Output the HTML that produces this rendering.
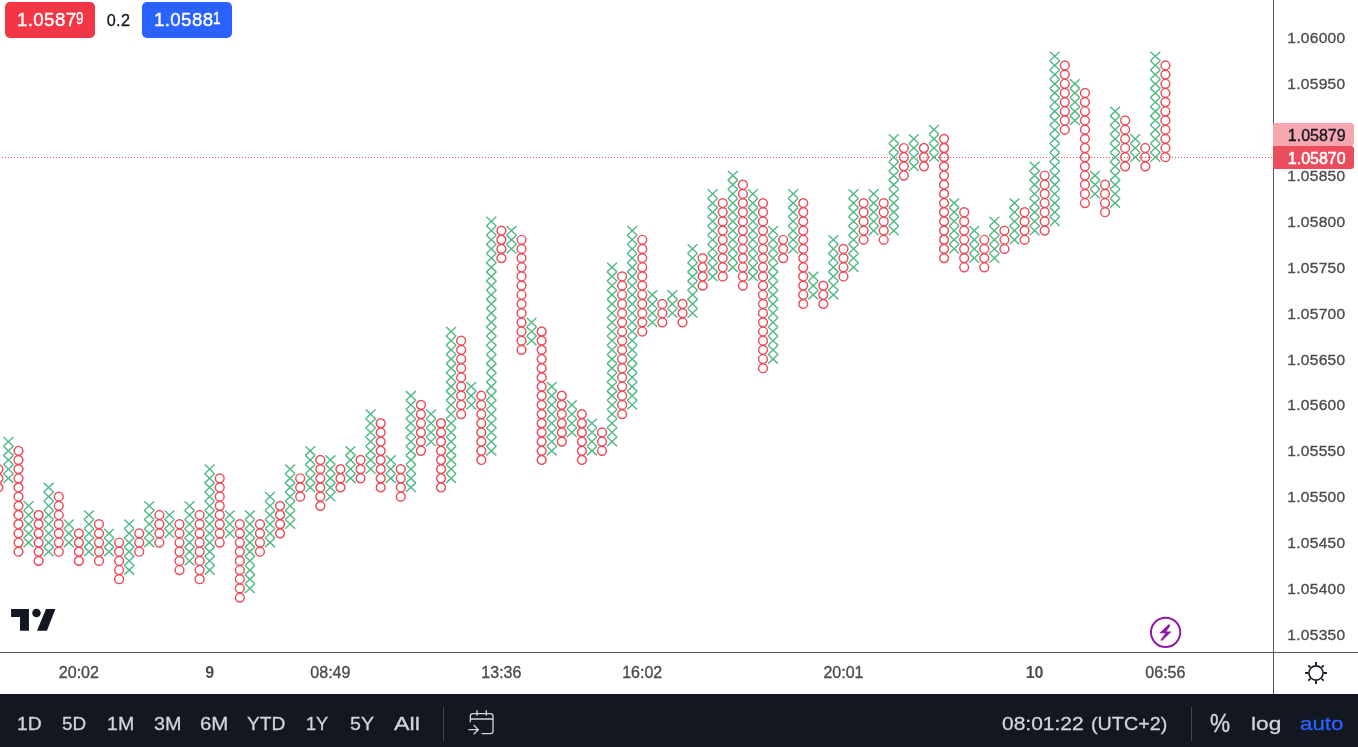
<!DOCTYPE html>
<html lang="en">
<head>
<meta charset="utf-8">
<title>Chart</title>
<style>
html,body{margin:0;padding:0;}
body{width:1358px;height:747px;overflow:hidden;background:#fff;position:relative;font-family:"Liberation Sans",sans-serif;}
#chart{position:absolute;left:0;top:0;width:1358px;height:694px;background:#fff;overflow:hidden;}
#chart svg{position:absolute;left:0;top:0;}
.vline{position:absolute;left:1273px;top:0;width:1px;height:694px;background:#555;}
.hline{position:absolute;left:0;top:652px;width:1358px;height:1px;background:#555;}
.pl{position:absolute;left:1287.3px;width:60px;height:20px;line-height:20px;font-size:15.5px;letter-spacing:0.3px;color:#4c4c4c;white-space:nowrap;-webkit-text-stroke:0.35px #4c4c4c;margin-top:0.6px;}
.tl{position:absolute;top:663px;width:80px;height:20px;line-height:20px;text-align:center;font-size:16px;color:#4c4c4c;white-space:nowrap;-webkit-text-stroke:0.35px #4c4c4c;}
.tl.b{font-weight:bold;-webkit-text-stroke:0;}
.btn{position:absolute;top:2px;height:36px;width:90px;border-radius:5px;color:#fff;font-size:18.7px;letter-spacing:0.38px;line-height:36px;white-space:nowrap;-webkit-text-stroke:0.35px #fff;}
.btn span.m{position:absolute;left:12px;top:-0.5px;}
.btn span.s{position:absolute;left:71.3px;top:-1.5px;font-size:16px;transform:scaleX(0.85);transform-origin:0 50%;}
#sell{left:5px;background:#f23645;}
#buy{left:142px;background:#2962ff;}
#spread{position:absolute;left:95px;top:2px;width:47px;height:36px;line-height:36px;text-align:center;font-size:16.2px;letter-spacing:0.3px;color:#131722;-webkit-text-stroke:0.3px #131722;}
.tag{position:absolute;left:1273px;width:81px;height:23px;border-radius:0 3px 3px 0;font-size:16px;line-height:23px;white-space:nowrap;}
.tag span{position:absolute;left:14.8px;top:0.5px;}
#tag1{top:123px;background:#f5a6ae;color:#131722;-webkit-text-stroke:0.35px #131722;}
#tag2{top:146px;background:#eb4d5c;color:#fff;-webkit-text-stroke:0.55px #fff;}
#bar{position:absolute;left:0;top:694px;width:1358px;height:53px;background:#131722;}
#bar .t{position:absolute;top:11.5px;height:36px;line-height:36px;font-size:19px;color:#d1d4dc;white-space:nowrap;transform-origin:0 50%;-webkit-text-stroke:0.3px;}
#bar .sep{position:absolute;top:13px;width:1px;height:34px;background:#434651;}
</style>
</head>
<body>
<div id="chart">
<svg width="1358" height="694" viewBox="0 0 1358 694">
<line x1="2" y1="157.5" x2="1273" y2="157.5" stroke="#eb4d5c" stroke-width="1" stroke-dasharray="1 2" shape-rendering="crispEdges"/>
<path d="M3.49 437.01l9.9 9.18M3.49 446.19l9.9 9.18M3.49 455.36l9.9 9.18M3.49 464.54l9.9 9.18M3.49 473.71l9.9 9.18M23.61 501.24l9.9 9.18M23.61 510.41l9.9 9.18M23.61 519.59l9.9 9.18M23.61 528.76l9.9 9.18M23.61 537.94l9.9 9.18M43.73 482.89l9.9 9.18M43.73 492.06l9.9 9.18M43.73 501.24l9.9 9.18M43.73 510.41l9.9 9.18M43.73 519.59l9.9 9.18M43.73 528.76l9.9 9.18M43.73 537.94l9.9 9.18M43.73 547.11l9.9 9.18M63.85 519.59l9.9 9.18M63.85 528.76l9.9 9.18M63.85 537.94l9.9 9.18M83.97 510.41l9.9 9.18M83.97 519.59l9.9 9.18M83.97 528.76l9.9 9.18M83.97 537.94l9.9 9.18M83.97 547.11l9.9 9.18M104.09 528.76l9.9 9.18M104.09 537.94l9.9 9.18M104.09 547.11l9.9 9.18M124.21 519.59l9.9 9.18M124.21 528.76l9.9 9.18M124.21 537.94l9.9 9.18M124.21 547.11l9.9 9.18M124.21 556.29l9.9 9.18M124.21 565.46l9.9 9.18M144.34 501.24l9.9 9.18M144.34 510.41l9.9 9.18M144.34 519.59l9.9 9.18M144.34 528.76l9.9 9.18M144.34 537.94l9.9 9.18M164.46 510.41l9.9 9.18M164.46 519.59l9.9 9.18M164.46 528.76l9.9 9.18M184.58 501.24l9.9 9.18M184.58 510.41l9.9 9.18M184.58 519.59l9.9 9.18M184.58 528.76l9.9 9.18M184.58 537.94l9.9 9.18M184.58 547.11l9.9 9.18M184.58 556.29l9.9 9.18M204.7 464.54l9.9 9.18M204.7 473.71l9.9 9.18M204.7 482.89l9.9 9.18M204.7 492.06l9.9 9.18M204.7 501.24l9.9 9.18M204.7 510.41l9.9 9.18M204.7 519.59l9.9 9.18M204.7 528.76l9.9 9.18M204.7 537.94l9.9 9.18M204.7 547.11l9.9 9.18M204.7 556.29l9.9 9.18M204.7 565.46l9.9 9.18M224.82 510.41l9.9 9.18M224.82 519.59l9.9 9.18M224.82 528.76l9.9 9.18M244.94 510.41l9.9 9.18M244.94 519.59l9.9 9.18M244.94 528.76l9.9 9.18M244.94 537.94l9.9 9.18M244.94 547.11l9.9 9.18M244.94 556.29l9.9 9.18M244.94 565.46l9.9 9.18M244.94 574.64l9.9 9.18M244.94 583.81l9.9 9.18M265.06 492.06l9.9 9.18M265.06 501.24l9.9 9.18M265.06 510.41l9.9 9.18M265.06 519.59l9.9 9.18M265.06 528.76l9.9 9.18M265.06 537.94l9.9 9.18M285.18 464.54l9.9 9.18M285.18 473.71l9.9 9.18M285.18 482.89l9.9 9.18M285.18 492.06l9.9 9.18M285.18 501.24l9.9 9.18M285.18 510.41l9.9 9.18M285.18 519.59l9.9 9.18M305.3 446.19l9.9 9.18M305.3 455.36l9.9 9.18M305.3 464.54l9.9 9.18M305.3 473.71l9.9 9.18M305.3 482.89l9.9 9.18M325.42 455.36l9.9 9.18M325.42 464.54l9.9 9.18M325.42 473.71l9.9 9.18M325.42 482.89l9.9 9.18M325.42 492.06l9.9 9.18M345.55 446.19l9.9 9.18M345.55 455.36l9.9 9.18M345.55 464.54l9.9 9.18M345.55 473.71l9.9 9.18M365.67 409.49l9.9 9.18M365.67 418.66l9.9 9.18M365.67 427.84l9.9 9.18M365.67 437.01l9.9 9.18M365.67 446.19l9.9 9.18M365.67 455.36l9.9 9.18M365.67 464.54l9.9 9.18M385.79 455.36l9.9 9.18M385.79 464.54l9.9 9.18M385.79 473.71l9.9 9.18M405.91 391.14l9.9 9.18M405.91 400.31l9.9 9.18M405.91 409.49l9.9 9.18M405.91 418.66l9.9 9.18M405.91 427.84l9.9 9.18M405.91 437.01l9.9 9.18M405.91 446.19l9.9 9.18M405.91 455.36l9.9 9.18M405.91 464.54l9.9 9.18M405.91 473.71l9.9 9.18M405.91 482.89l9.9 9.18M426.03 409.49l9.9 9.18M426.03 418.66l9.9 9.18M426.03 427.84l9.9 9.18M426.03 437.01l9.9 9.18M446.15 326.91l9.9 9.18M446.15 336.09l9.9 9.18M446.15 345.26l9.9 9.18M446.15 354.44l9.9 9.18M446.15 363.61l9.9 9.18M446.15 372.79l9.9 9.18M446.15 381.96l9.9 9.18M446.15 391.14l9.9 9.18M446.15 400.31l9.9 9.18M446.15 409.49l9.9 9.18M446.15 418.66l9.9 9.18M446.15 427.84l9.9 9.18M446.15 437.01l9.9 9.18M446.15 446.19l9.9 9.18M446.15 455.36l9.9 9.18M446.15 464.54l9.9 9.18M446.15 473.71l9.9 9.18M466.27 381.96l9.9 9.18M466.27 391.14l9.9 9.18M466.27 400.31l9.9 9.18M486.39 216.81l9.9 9.18M486.39 225.99l9.9 9.18M486.39 235.16l9.9 9.18M486.39 244.34l9.9 9.18M486.39 253.51l9.9 9.18M486.39 262.69l9.9 9.18M486.39 271.86l9.9 9.18M486.39 281.04l9.9 9.18M486.39 290.21l9.9 9.18M486.39 299.39l9.9 9.18M486.39 308.56l9.9 9.18M486.39 317.74l9.9 9.18M486.39 326.91l9.9 9.18M486.39 336.09l9.9 9.18M486.39 345.26l9.9 9.18M486.39 354.44l9.9 9.18M486.39 363.61l9.9 9.18M486.39 372.79l9.9 9.18M486.39 381.96l9.9 9.18M486.39 391.14l9.9 9.18M486.39 400.31l9.9 9.18M486.39 409.49l9.9 9.18M486.39 418.66l9.9 9.18M486.39 427.84l9.9 9.18M486.39 437.01l9.9 9.18M486.39 446.19l9.9 9.18M506.51 225.99l9.9 9.18M506.51 235.16l9.9 9.18M506.51 244.34l9.9 9.18M526.63 317.74l9.9 9.18M526.63 326.91l9.9 9.18M526.63 336.09l9.9 9.18M546.76 381.96l9.9 9.18M546.76 391.14l9.9 9.18M546.76 400.31l9.9 9.18M546.76 409.49l9.9 9.18M546.76 418.66l9.9 9.18M546.76 427.84l9.9 9.18M546.76 437.01l9.9 9.18M546.76 446.19l9.9 9.18M566.88 400.31l9.9 9.18M566.88 409.49l9.9 9.18M566.88 418.66l9.9 9.18M566.88 427.84l9.9 9.18M587 418.66l9.9 9.18M587 427.84l9.9 9.18M587 437.01l9.9 9.18M587 446.19l9.9 9.18M607.12 262.69l9.9 9.18M607.12 271.86l9.9 9.18M607.12 281.04l9.9 9.18M607.12 290.21l9.9 9.18M607.12 299.39l9.9 9.18M607.12 308.56l9.9 9.18M607.12 317.74l9.9 9.18M607.12 326.91l9.9 9.18M607.12 336.09l9.9 9.18M607.12 345.26l9.9 9.18M607.12 354.44l9.9 9.18M607.12 363.61l9.9 9.18M607.12 372.79l9.9 9.18M607.12 381.96l9.9 9.18M607.12 391.14l9.9 9.18M607.12 400.31l9.9 9.18M607.12 409.49l9.9 9.18M607.12 418.66l9.9 9.18M607.12 427.84l9.9 9.18M607.12 437.01l9.9 9.18M627.24 225.99l9.9 9.18M627.24 235.16l9.9 9.18M627.24 244.34l9.9 9.18M627.24 253.51l9.9 9.18M627.24 262.69l9.9 9.18M627.24 271.86l9.9 9.18M627.24 281.04l9.9 9.18M627.24 290.21l9.9 9.18M627.24 299.39l9.9 9.18M627.24 308.56l9.9 9.18M627.24 317.74l9.9 9.18M627.24 326.91l9.9 9.18M627.24 336.09l9.9 9.18M627.24 345.26l9.9 9.18M627.24 354.44l9.9 9.18M627.24 363.61l9.9 9.18M627.24 372.79l9.9 9.18M627.24 381.96l9.9 9.18M627.24 391.14l9.9 9.18M627.24 400.31l9.9 9.18M647.36 290.21l9.9 9.18M647.36 299.39l9.9 9.18M647.36 308.56l9.9 9.18M647.36 317.74l9.9 9.18M667.48 290.21l9.9 9.18M667.48 299.39l9.9 9.18M667.48 308.56l9.9 9.18M687.6 244.34l9.9 9.18M687.6 253.51l9.9 9.18M687.6 262.69l9.9 9.18M687.6 271.86l9.9 9.18M687.6 281.04l9.9 9.18M687.6 290.21l9.9 9.18M687.6 299.39l9.9 9.18M687.6 308.56l9.9 9.18M707.72 189.29l9.9 9.18M707.72 198.46l9.9 9.18M707.72 207.64l9.9 9.18M707.72 216.81l9.9 9.18M707.72 225.99l9.9 9.18M707.72 235.16l9.9 9.18M707.72 244.34l9.9 9.18M707.72 253.51l9.9 9.18M707.72 262.69l9.9 9.18M707.72 271.86l9.9 9.18M727.84 170.94l9.9 9.18M727.84 180.11l9.9 9.18M727.84 189.29l9.9 9.18M727.84 198.46l9.9 9.18M727.84 207.64l9.9 9.18M727.84 216.81l9.9 9.18M727.84 225.99l9.9 9.18M727.84 235.16l9.9 9.18M727.84 244.34l9.9 9.18M727.84 253.51l9.9 9.18M727.84 262.69l9.9 9.18M747.97 189.29l9.9 9.18M747.97 198.46l9.9 9.18M747.97 207.64l9.9 9.18M747.97 216.81l9.9 9.18M747.97 225.99l9.9 9.18M747.97 235.16l9.9 9.18M747.97 244.34l9.9 9.18M747.97 253.51l9.9 9.18M747.97 262.69l9.9 9.18M747.97 271.86l9.9 9.18M768.09 225.99l9.9 9.18M768.09 235.16l9.9 9.18M768.09 244.34l9.9 9.18M768.09 253.51l9.9 9.18M768.09 262.69l9.9 9.18M768.09 271.86l9.9 9.18M768.09 281.04l9.9 9.18M768.09 290.21l9.9 9.18M768.09 299.39l9.9 9.18M768.09 308.56l9.9 9.18M768.09 317.74l9.9 9.18M768.09 326.91l9.9 9.18M768.09 336.09l9.9 9.18M768.09 345.26l9.9 9.18M768.09 354.44l9.9 9.18M788.21 189.29l9.9 9.18M788.21 198.46l9.9 9.18M788.21 207.64l9.9 9.18M788.21 216.81l9.9 9.18M788.21 225.99l9.9 9.18M788.21 235.16l9.9 9.18M788.21 244.34l9.9 9.18M808.33 271.86l9.9 9.18M808.33 281.04l9.9 9.18M808.33 290.21l9.9 9.18M828.45 235.16l9.9 9.18M828.45 244.34l9.9 9.18M828.45 253.51l9.9 9.18M828.45 262.69l9.9 9.18M828.45 271.86l9.9 9.18M828.45 281.04l9.9 9.18M828.45 290.21l9.9 9.18M848.57 189.29l9.9 9.18M848.57 198.46l9.9 9.18M848.57 207.64l9.9 9.18M848.57 216.81l9.9 9.18M848.57 225.99l9.9 9.18M848.57 235.16l9.9 9.18M848.57 244.34l9.9 9.18M848.57 253.51l9.9 9.18M848.57 262.69l9.9 9.18M868.69 189.29l9.9 9.18M868.69 198.46l9.9 9.18M868.69 207.64l9.9 9.18M868.69 216.81l9.9 9.18M868.69 225.99l9.9 9.18M888.81 134.24l9.9 9.18M888.81 143.41l9.9 9.18M888.81 152.59l9.9 9.18M888.81 161.76l9.9 9.18M888.81 170.94l9.9 9.18M888.81 180.11l9.9 9.18M888.81 189.29l9.9 9.18M888.81 198.46l9.9 9.18M888.81 207.64l9.9 9.18M888.81 216.81l9.9 9.18M888.81 225.99l9.9 9.18M908.93 134.24l9.9 9.18M908.93 143.41l9.9 9.18M908.93 152.59l9.9 9.18M908.93 161.76l9.9 9.18M929.05 125.06l9.9 9.18M929.05 134.24l9.9 9.18M929.05 143.41l9.9 9.18M929.05 152.59l9.9 9.18M949.18 198.46l9.9 9.18M949.18 207.64l9.9 9.18M949.18 216.81l9.9 9.18M949.18 225.99l9.9 9.18M949.18 235.16l9.9 9.18M949.18 244.34l9.9 9.18M969.3 225.99l9.9 9.18M969.3 235.16l9.9 9.18M969.3 244.34l9.9 9.18M969.3 253.51l9.9 9.18M989.42 216.81l9.9 9.18M989.42 225.99l9.9 9.18M989.42 235.16l9.9 9.18M989.42 244.34l9.9 9.18M989.42 253.51l9.9 9.18M1009.54 198.46l9.9 9.18M1009.54 207.64l9.9 9.18M1009.54 216.81l9.9 9.18M1009.54 225.99l9.9 9.18M1009.54 235.16l9.9 9.18M1029.66 161.76l9.9 9.18M1029.66 170.94l9.9 9.18M1029.66 180.11l9.9 9.18M1029.66 189.29l9.9 9.18M1029.66 198.46l9.9 9.18M1029.66 207.64l9.9 9.18M1029.66 216.81l9.9 9.18M1029.66 225.99l9.9 9.18M1049.78 51.66l9.9 9.18M1049.78 60.84l9.9 9.18M1049.78 70.01l9.9 9.18M1049.78 79.19l9.9 9.18M1049.78 88.36l9.9 9.18M1049.78 97.54l9.9 9.18M1049.78 106.71l9.9 9.18M1049.78 115.89l9.9 9.18M1049.78 125.06l9.9 9.18M1049.78 134.24l9.9 9.18M1049.78 143.41l9.9 9.18M1049.78 152.59l9.9 9.18M1049.78 161.76l9.9 9.18M1049.78 170.94l9.9 9.18M1049.78 180.11l9.9 9.18M1049.78 189.29l9.9 9.18M1049.78 198.46l9.9 9.18M1049.78 207.64l9.9 9.18M1049.78 216.81l9.9 9.18M1069.9 79.19l9.9 9.18M1069.9 88.36l9.9 9.18M1069.9 97.54l9.9 9.18M1069.9 106.71l9.9 9.18M1069.9 115.89l9.9 9.18M1090.02 170.94l9.9 9.18M1090.02 180.11l9.9 9.18M1090.02 189.29l9.9 9.18M1110.14 106.71l9.9 9.18M1110.14 115.89l9.9 9.18M1110.14 125.06l9.9 9.18M1110.14 134.24l9.9 9.18M1110.14 143.41l9.9 9.18M1110.14 152.59l9.9 9.18M1110.14 161.76l9.9 9.18M1110.14 170.94l9.9 9.18M1110.14 180.11l9.9 9.18M1110.14 189.29l9.9 9.18M1110.14 198.46l9.9 9.18M1130.26 134.24l9.9 9.18M1130.26 143.41l9.9 9.18M1130.26 152.59l9.9 9.18M1150.39 51.66l9.9 9.18M1150.39 60.84l9.9 9.18M1150.39 70.01l9.9 9.18M1150.39 79.19l9.9 9.18M1150.39 88.36l9.9 9.18M1150.39 97.54l9.9 9.18M1150.39 106.71l9.9 9.18M1150.39 115.89l9.9 9.18M1150.39 125.06l9.9 9.18M1150.39 134.24l9.9 9.18M1150.39 143.41l9.9 9.18M1150.39 152.59l9.9 9.18" fill="none" stroke="#53b987" stroke-width="1.45" stroke-linecap="butt" stroke-linejoin="miter"/>
<path d="M3.49 446.19l9.9 -9.18M3.49 455.36l9.9 -9.18M3.49 464.54l9.9 -9.18M3.49 473.71l9.9 -9.18M3.49 482.89l9.9 -9.18M23.61 510.41l9.9 -9.18M23.61 519.59l9.9 -9.18M23.61 528.76l9.9 -9.18M23.61 537.94l9.9 -9.18M23.61 547.11l9.9 -9.18M43.73 492.06l9.9 -9.18M43.73 501.24l9.9 -9.18M43.73 510.41l9.9 -9.18M43.73 519.59l9.9 -9.18M43.73 528.76l9.9 -9.18M43.73 537.94l9.9 -9.18M43.73 547.11l9.9 -9.18M43.73 556.29l9.9 -9.18M63.85 528.76l9.9 -9.18M63.85 537.94l9.9 -9.18M63.85 547.11l9.9 -9.18M83.97 519.59l9.9 -9.18M83.97 528.76l9.9 -9.18M83.97 537.94l9.9 -9.18M83.97 547.11l9.9 -9.18M83.97 556.29l9.9 -9.18M104.09 537.94l9.9 -9.18M104.09 547.11l9.9 -9.18M104.09 556.29l9.9 -9.18M124.21 528.76l9.9 -9.18M124.21 537.94l9.9 -9.18M124.21 547.11l9.9 -9.18M124.21 556.29l9.9 -9.18M124.21 565.46l9.9 -9.18M124.21 574.64l9.9 -9.18M144.34 510.41l9.9 -9.18M144.34 519.59l9.9 -9.18M144.34 528.76l9.9 -9.18M144.34 537.94l9.9 -9.18M144.34 547.11l9.9 -9.18M164.46 519.59l9.9 -9.18M164.46 528.76l9.9 -9.18M164.46 537.94l9.9 -9.18M184.58 510.41l9.9 -9.18M184.58 519.59l9.9 -9.18M184.58 528.76l9.9 -9.18M184.58 537.94l9.9 -9.18M184.58 547.11l9.9 -9.18M184.58 556.29l9.9 -9.18M184.58 565.46l9.9 -9.18M204.7 473.71l9.9 -9.18M204.7 482.89l9.9 -9.18M204.7 492.06l9.9 -9.18M204.7 501.24l9.9 -9.18M204.7 510.41l9.9 -9.18M204.7 519.59l9.9 -9.18M204.7 528.76l9.9 -9.18M204.7 537.94l9.9 -9.18M204.7 547.11l9.9 -9.18M204.7 556.29l9.9 -9.18M204.7 565.46l9.9 -9.18M204.7 574.64l9.9 -9.18M224.82 519.59l9.9 -9.18M224.82 528.76l9.9 -9.18M224.82 537.94l9.9 -9.18M244.94 519.59l9.9 -9.18M244.94 528.76l9.9 -9.18M244.94 537.94l9.9 -9.18M244.94 547.11l9.9 -9.18M244.94 556.29l9.9 -9.18M244.94 565.46l9.9 -9.18M244.94 574.64l9.9 -9.18M244.94 583.81l9.9 -9.18M244.94 592.99l9.9 -9.18M265.06 501.24l9.9 -9.18M265.06 510.41l9.9 -9.18M265.06 519.59l9.9 -9.18M265.06 528.76l9.9 -9.18M265.06 537.94l9.9 -9.18M265.06 547.11l9.9 -9.18M285.18 473.71l9.9 -9.18M285.18 482.89l9.9 -9.18M285.18 492.06l9.9 -9.18M285.18 501.24l9.9 -9.18M285.18 510.41l9.9 -9.18M285.18 519.59l9.9 -9.18M285.18 528.76l9.9 -9.18M305.3 455.36l9.9 -9.18M305.3 464.54l9.9 -9.18M305.3 473.71l9.9 -9.18M305.3 482.89l9.9 -9.18M305.3 492.06l9.9 -9.18M325.42 464.54l9.9 -9.18M325.42 473.71l9.9 -9.18M325.42 482.89l9.9 -9.18M325.42 492.06l9.9 -9.18M325.42 501.24l9.9 -9.18M345.55 455.36l9.9 -9.18M345.55 464.54l9.9 -9.18M345.55 473.71l9.9 -9.18M345.55 482.89l9.9 -9.18M365.67 418.66l9.9 -9.18M365.67 427.84l9.9 -9.18M365.67 437.01l9.9 -9.18M365.67 446.19l9.9 -9.18M365.67 455.36l9.9 -9.18M365.67 464.54l9.9 -9.18M365.67 473.71l9.9 -9.18M385.79 464.54l9.9 -9.18M385.79 473.71l9.9 -9.18M385.79 482.89l9.9 -9.18M405.91 400.31l9.9 -9.18M405.91 409.49l9.9 -9.18M405.91 418.66l9.9 -9.18M405.91 427.84l9.9 -9.18M405.91 437.01l9.9 -9.18M405.91 446.19l9.9 -9.18M405.91 455.36l9.9 -9.18M405.91 464.54l9.9 -9.18M405.91 473.71l9.9 -9.18M405.91 482.89l9.9 -9.18M405.91 492.06l9.9 -9.18M426.03 418.66l9.9 -9.18M426.03 427.84l9.9 -9.18M426.03 437.01l9.9 -9.18M426.03 446.19l9.9 -9.18M446.15 336.09l9.9 -9.18M446.15 345.26l9.9 -9.18M446.15 354.44l9.9 -9.18M446.15 363.61l9.9 -9.18M446.15 372.79l9.9 -9.18M446.15 381.96l9.9 -9.18M446.15 391.14l9.9 -9.18M446.15 400.31l9.9 -9.18M446.15 409.49l9.9 -9.18M446.15 418.66l9.9 -9.18M446.15 427.84l9.9 -9.18M446.15 437.01l9.9 -9.18M446.15 446.19l9.9 -9.18M446.15 455.36l9.9 -9.18M446.15 464.54l9.9 -9.18M446.15 473.71l9.9 -9.18M446.15 482.89l9.9 -9.18M466.27 391.14l9.9 -9.18M466.27 400.31l9.9 -9.18M466.27 409.49l9.9 -9.18M486.39 225.99l9.9 -9.18M486.39 235.16l9.9 -9.18M486.39 244.34l9.9 -9.18M486.39 253.51l9.9 -9.18M486.39 262.69l9.9 -9.18M486.39 271.86l9.9 -9.18M486.39 281.04l9.9 -9.18M486.39 290.21l9.9 -9.18M486.39 299.39l9.9 -9.18M486.39 308.56l9.9 -9.18M486.39 317.74l9.9 -9.18M486.39 326.91l9.9 -9.18M486.39 336.09l9.9 -9.18M486.39 345.26l9.9 -9.18M486.39 354.44l9.9 -9.18M486.39 363.61l9.9 -9.18M486.39 372.79l9.9 -9.18M486.39 381.96l9.9 -9.18M486.39 391.14l9.9 -9.18M486.39 400.31l9.9 -9.18M486.39 409.49l9.9 -9.18M486.39 418.66l9.9 -9.18M486.39 427.84l9.9 -9.18M486.39 437.01l9.9 -9.18M486.39 446.19l9.9 -9.18M486.39 455.36l9.9 -9.18M506.51 235.16l9.9 -9.18M506.51 244.34l9.9 -9.18M506.51 253.51l9.9 -9.18M526.63 326.91l9.9 -9.18M526.63 336.09l9.9 -9.18M526.63 345.26l9.9 -9.18M546.76 391.14l9.9 -9.18M546.76 400.31l9.9 -9.18M546.76 409.49l9.9 -9.18M546.76 418.66l9.9 -9.18M546.76 427.84l9.9 -9.18M546.76 437.01l9.9 -9.18M546.76 446.19l9.9 -9.18M546.76 455.36l9.9 -9.18M566.88 409.49l9.9 -9.18M566.88 418.66l9.9 -9.18M566.88 427.84l9.9 -9.18M566.88 437.01l9.9 -9.18M587 427.84l9.9 -9.18M587 437.01l9.9 -9.18M587 446.19l9.9 -9.18M587 455.36l9.9 -9.18M607.12 271.86l9.9 -9.18M607.12 281.04l9.9 -9.18M607.12 290.21l9.9 -9.18M607.12 299.39l9.9 -9.18M607.12 308.56l9.9 -9.18M607.12 317.74l9.9 -9.18M607.12 326.91l9.9 -9.18M607.12 336.09l9.9 -9.18M607.12 345.26l9.9 -9.18M607.12 354.44l9.9 -9.18M607.12 363.61l9.9 -9.18M607.12 372.79l9.9 -9.18M607.12 381.96l9.9 -9.18M607.12 391.14l9.9 -9.18M607.12 400.31l9.9 -9.18M607.12 409.49l9.9 -9.18M607.12 418.66l9.9 -9.18M607.12 427.84l9.9 -9.18M607.12 437.01l9.9 -9.18M607.12 446.19l9.9 -9.18M627.24 235.16l9.9 -9.18M627.24 244.34l9.9 -9.18M627.24 253.51l9.9 -9.18M627.24 262.69l9.9 -9.18M627.24 271.86l9.9 -9.18M627.24 281.04l9.9 -9.18M627.24 290.21l9.9 -9.18M627.24 299.39l9.9 -9.18M627.24 308.56l9.9 -9.18M627.24 317.74l9.9 -9.18M627.24 326.91l9.9 -9.18M627.24 336.09l9.9 -9.18M627.24 345.26l9.9 -9.18M627.24 354.44l9.9 -9.18M627.24 363.61l9.9 -9.18M627.24 372.79l9.9 -9.18M627.24 381.96l9.9 -9.18M627.24 391.14l9.9 -9.18M627.24 400.31l9.9 -9.18M627.24 409.49l9.9 -9.18M647.36 299.39l9.9 -9.18M647.36 308.56l9.9 -9.18M647.36 317.74l9.9 -9.18M647.36 326.91l9.9 -9.18M667.48 299.39l9.9 -9.18M667.48 308.56l9.9 -9.18M667.48 317.74l9.9 -9.18M687.6 253.51l9.9 -9.18M687.6 262.69l9.9 -9.18M687.6 271.86l9.9 -9.18M687.6 281.04l9.9 -9.18M687.6 290.21l9.9 -9.18M687.6 299.39l9.9 -9.18M687.6 308.56l9.9 -9.18M687.6 317.74l9.9 -9.18M707.72 198.46l9.9 -9.18M707.72 207.64l9.9 -9.18M707.72 216.81l9.9 -9.18M707.72 225.99l9.9 -9.18M707.72 235.16l9.9 -9.18M707.72 244.34l9.9 -9.18M707.72 253.51l9.9 -9.18M707.72 262.69l9.9 -9.18M707.72 271.86l9.9 -9.18M707.72 281.04l9.9 -9.18M727.84 180.11l9.9 -9.18M727.84 189.29l9.9 -9.18M727.84 198.46l9.9 -9.18M727.84 207.64l9.9 -9.18M727.84 216.81l9.9 -9.18M727.84 225.99l9.9 -9.18M727.84 235.16l9.9 -9.18M727.84 244.34l9.9 -9.18M727.84 253.51l9.9 -9.18M727.84 262.69l9.9 -9.18M727.84 271.86l9.9 -9.18M747.97 198.46l9.9 -9.18M747.97 207.64l9.9 -9.18M747.97 216.81l9.9 -9.18M747.97 225.99l9.9 -9.18M747.97 235.16l9.9 -9.18M747.97 244.34l9.9 -9.18M747.97 253.51l9.9 -9.18M747.97 262.69l9.9 -9.18M747.97 271.86l9.9 -9.18M747.97 281.04l9.9 -9.18M768.09 235.16l9.9 -9.18M768.09 244.34l9.9 -9.18M768.09 253.51l9.9 -9.18M768.09 262.69l9.9 -9.18M768.09 271.86l9.9 -9.18M768.09 281.04l9.9 -9.18M768.09 290.21l9.9 -9.18M768.09 299.39l9.9 -9.18M768.09 308.56l9.9 -9.18M768.09 317.74l9.9 -9.18M768.09 326.91l9.9 -9.18M768.09 336.09l9.9 -9.18M768.09 345.26l9.9 -9.18M768.09 354.44l9.9 -9.18M768.09 363.61l9.9 -9.18M788.21 198.46l9.9 -9.18M788.21 207.64l9.9 -9.18M788.21 216.81l9.9 -9.18M788.21 225.99l9.9 -9.18M788.21 235.16l9.9 -9.18M788.21 244.34l9.9 -9.18M788.21 253.51l9.9 -9.18M808.33 281.04l9.9 -9.18M808.33 290.21l9.9 -9.18M808.33 299.39l9.9 -9.18M828.45 244.34l9.9 -9.18M828.45 253.51l9.9 -9.18M828.45 262.69l9.9 -9.18M828.45 271.86l9.9 -9.18M828.45 281.04l9.9 -9.18M828.45 290.21l9.9 -9.18M828.45 299.39l9.9 -9.18M848.57 198.46l9.9 -9.18M848.57 207.64l9.9 -9.18M848.57 216.81l9.9 -9.18M848.57 225.99l9.9 -9.18M848.57 235.16l9.9 -9.18M848.57 244.34l9.9 -9.18M848.57 253.51l9.9 -9.18M848.57 262.69l9.9 -9.18M848.57 271.86l9.9 -9.18M868.69 198.46l9.9 -9.18M868.69 207.64l9.9 -9.18M868.69 216.81l9.9 -9.18M868.69 225.99l9.9 -9.18M868.69 235.16l9.9 -9.18M888.81 143.41l9.9 -9.18M888.81 152.59l9.9 -9.18M888.81 161.76l9.9 -9.18M888.81 170.94l9.9 -9.18M888.81 180.11l9.9 -9.18M888.81 189.29l9.9 -9.18M888.81 198.46l9.9 -9.18M888.81 207.64l9.9 -9.18M888.81 216.81l9.9 -9.18M888.81 225.99l9.9 -9.18M888.81 235.16l9.9 -9.18M908.93 143.41l9.9 -9.18M908.93 152.59l9.9 -9.18M908.93 161.76l9.9 -9.18M908.93 170.94l9.9 -9.18M929.05 134.24l9.9 -9.18M929.05 143.41l9.9 -9.18M929.05 152.59l9.9 -9.18M929.05 161.76l9.9 -9.18M949.18 207.64l9.9 -9.18M949.18 216.81l9.9 -9.18M949.18 225.99l9.9 -9.18M949.18 235.16l9.9 -9.18M949.18 244.34l9.9 -9.18M949.18 253.51l9.9 -9.18M969.3 235.16l9.9 -9.18M969.3 244.34l9.9 -9.18M969.3 253.51l9.9 -9.18M969.3 262.69l9.9 -9.18M989.42 225.99l9.9 -9.18M989.42 235.16l9.9 -9.18M989.42 244.34l9.9 -9.18M989.42 253.51l9.9 -9.18M989.42 262.69l9.9 -9.18M1009.54 207.64l9.9 -9.18M1009.54 216.81l9.9 -9.18M1009.54 225.99l9.9 -9.18M1009.54 235.16l9.9 -9.18M1009.54 244.34l9.9 -9.18M1029.66 170.94l9.9 -9.18M1029.66 180.11l9.9 -9.18M1029.66 189.29l9.9 -9.18M1029.66 198.46l9.9 -9.18M1029.66 207.64l9.9 -9.18M1029.66 216.81l9.9 -9.18M1029.66 225.99l9.9 -9.18M1029.66 235.16l9.9 -9.18M1049.78 60.84l9.9 -9.18M1049.78 70.01l9.9 -9.18M1049.78 79.19l9.9 -9.18M1049.78 88.36l9.9 -9.18M1049.78 97.54l9.9 -9.18M1049.78 106.71l9.9 -9.18M1049.78 115.89l9.9 -9.18M1049.78 125.06l9.9 -9.18M1049.78 134.24l9.9 -9.18M1049.78 143.41l9.9 -9.18M1049.78 152.59l9.9 -9.18M1049.78 161.76l9.9 -9.18M1049.78 170.94l9.9 -9.18M1049.78 180.11l9.9 -9.18M1049.78 189.29l9.9 -9.18M1049.78 198.46l9.9 -9.18M1049.78 207.64l9.9 -9.18M1049.78 216.81l9.9 -9.18M1049.78 225.99l9.9 -9.18M1069.9 88.36l9.9 -9.18M1069.9 97.54l9.9 -9.18M1069.9 106.71l9.9 -9.18M1069.9 115.89l9.9 -9.18M1069.9 125.06l9.9 -9.18M1090.02 180.11l9.9 -9.18M1090.02 189.29l9.9 -9.18M1090.02 198.46l9.9 -9.18M1110.14 115.89l9.9 -9.18M1110.14 125.06l9.9 -9.18M1110.14 134.24l9.9 -9.18M1110.14 143.41l9.9 -9.18M1110.14 152.59l9.9 -9.18M1110.14 161.76l9.9 -9.18M1110.14 170.94l9.9 -9.18M1110.14 180.11l9.9 -9.18M1110.14 189.29l9.9 -9.18M1110.14 198.46l9.9 -9.18M1110.14 207.64l9.9 -9.18M1130.26 143.41l9.9 -9.18M1130.26 152.59l9.9 -9.18M1130.26 161.76l9.9 -9.18M1150.39 60.84l9.9 -9.18M1150.39 70.01l9.9 -9.18M1150.39 79.19l9.9 -9.18M1150.39 88.36l9.9 -9.18M1150.39 97.54l9.9 -9.18M1150.39 106.71l9.9 -9.18M1150.39 115.89l9.9 -9.18M1150.39 125.06l9.9 -9.18M1150.39 134.24l9.9 -9.18M1150.39 143.41l9.9 -9.18M1150.39 152.59l9.9 -9.18M1150.39 161.76l9.9 -9.18" fill="none" stroke="#53b987" stroke-width="1.45"/>
<path d="M-6.02 469.12a4.4 4.4 0 1 0 8.8 0a4.4 4.4 0 1 0 -8.8 0M-6.02 478.3a4.4 4.4 0 1 0 8.8 0a4.4 4.4 0 1 0 -8.8 0M-6.02 487.48a4.4 4.4 0 1 0 8.8 0a4.4 4.4 0 1 0 -8.8 0M14.1 450.78a4.4 4.4 0 1 0 8.8 0a4.4 4.4 0 1 0 -8.8 0M14.1 459.95a4.4 4.4 0 1 0 8.8 0a4.4 4.4 0 1 0 -8.8 0M14.1 469.12a4.4 4.4 0 1 0 8.8 0a4.4 4.4 0 1 0 -8.8 0M14.1 478.3a4.4 4.4 0 1 0 8.8 0a4.4 4.4 0 1 0 -8.8 0M14.1 487.48a4.4 4.4 0 1 0 8.8 0a4.4 4.4 0 1 0 -8.8 0M14.1 496.65a4.4 4.4 0 1 0 8.8 0a4.4 4.4 0 1 0 -8.8 0M14.1 505.82a4.4 4.4 0 1 0 8.8 0a4.4 4.4 0 1 0 -8.8 0M14.1 515a4.4 4.4 0 1 0 8.8 0a4.4 4.4 0 1 0 -8.8 0M14.1 524.18a4.4 4.4 0 1 0 8.8 0a4.4 4.4 0 1 0 -8.8 0M14.1 533.35a4.4 4.4 0 1 0 8.8 0a4.4 4.4 0 1 0 -8.8 0M14.1 542.53a4.4 4.4 0 1 0 8.8 0a4.4 4.4 0 1 0 -8.8 0M14.1 551.7a4.4 4.4 0 1 0 8.8 0a4.4 4.4 0 1 0 -8.8 0M34.22 515a4.4 4.4 0 1 0 8.8 0a4.4 4.4 0 1 0 -8.8 0M34.22 524.18a4.4 4.4 0 1 0 8.8 0a4.4 4.4 0 1 0 -8.8 0M34.22 533.35a4.4 4.4 0 1 0 8.8 0a4.4 4.4 0 1 0 -8.8 0M34.22 542.53a4.4 4.4 0 1 0 8.8 0a4.4 4.4 0 1 0 -8.8 0M34.22 551.7a4.4 4.4 0 1 0 8.8 0a4.4 4.4 0 1 0 -8.8 0M34.22 560.88a4.4 4.4 0 1 0 8.8 0a4.4 4.4 0 1 0 -8.8 0M54.34 496.65a4.4 4.4 0 1 0 8.8 0a4.4 4.4 0 1 0 -8.8 0M54.34 505.82a4.4 4.4 0 1 0 8.8 0a4.4 4.4 0 1 0 -8.8 0M54.34 515a4.4 4.4 0 1 0 8.8 0a4.4 4.4 0 1 0 -8.8 0M54.34 524.18a4.4 4.4 0 1 0 8.8 0a4.4 4.4 0 1 0 -8.8 0M54.34 533.35a4.4 4.4 0 1 0 8.8 0a4.4 4.4 0 1 0 -8.8 0M54.34 542.53a4.4 4.4 0 1 0 8.8 0a4.4 4.4 0 1 0 -8.8 0M54.34 551.7a4.4 4.4 0 1 0 8.8 0a4.4 4.4 0 1 0 -8.8 0M74.46 533.35a4.4 4.4 0 1 0 8.8 0a4.4 4.4 0 1 0 -8.8 0M74.46 542.53a4.4 4.4 0 1 0 8.8 0a4.4 4.4 0 1 0 -8.8 0M74.46 551.7a4.4 4.4 0 1 0 8.8 0a4.4 4.4 0 1 0 -8.8 0M74.46 560.88a4.4 4.4 0 1 0 8.8 0a4.4 4.4 0 1 0 -8.8 0M94.58 524.18a4.4 4.4 0 1 0 8.8 0a4.4 4.4 0 1 0 -8.8 0M94.58 533.35a4.4 4.4 0 1 0 8.8 0a4.4 4.4 0 1 0 -8.8 0M94.58 542.53a4.4 4.4 0 1 0 8.8 0a4.4 4.4 0 1 0 -8.8 0M94.58 551.7a4.4 4.4 0 1 0 8.8 0a4.4 4.4 0 1 0 -8.8 0M94.58 560.88a4.4 4.4 0 1 0 8.8 0a4.4 4.4 0 1 0 -8.8 0M114.7 542.53a4.4 4.4 0 1 0 8.8 0a4.4 4.4 0 1 0 -8.8 0M114.7 551.7a4.4 4.4 0 1 0 8.8 0a4.4 4.4 0 1 0 -8.8 0M114.7 560.88a4.4 4.4 0 1 0 8.8 0a4.4 4.4 0 1 0 -8.8 0M114.7 570.05a4.4 4.4 0 1 0 8.8 0a4.4 4.4 0 1 0 -8.8 0M114.7 579.23a4.4 4.4 0 1 0 8.8 0a4.4 4.4 0 1 0 -8.8 0M134.82 533.35a4.4 4.4 0 1 0 8.8 0a4.4 4.4 0 1 0 -8.8 0M134.82 542.53a4.4 4.4 0 1 0 8.8 0a4.4 4.4 0 1 0 -8.8 0M134.82 551.7a4.4 4.4 0 1 0 8.8 0a4.4 4.4 0 1 0 -8.8 0M154.95 515a4.4 4.4 0 1 0 8.8 0a4.4 4.4 0 1 0 -8.8 0M154.95 524.18a4.4 4.4 0 1 0 8.8 0a4.4 4.4 0 1 0 -8.8 0M154.95 533.35a4.4 4.4 0 1 0 8.8 0a4.4 4.4 0 1 0 -8.8 0M154.95 542.53a4.4 4.4 0 1 0 8.8 0a4.4 4.4 0 1 0 -8.8 0M175.07 524.18a4.4 4.4 0 1 0 8.8 0a4.4 4.4 0 1 0 -8.8 0M175.07 533.35a4.4 4.4 0 1 0 8.8 0a4.4 4.4 0 1 0 -8.8 0M175.07 542.53a4.4 4.4 0 1 0 8.8 0a4.4 4.4 0 1 0 -8.8 0M175.07 551.7a4.4 4.4 0 1 0 8.8 0a4.4 4.4 0 1 0 -8.8 0M175.07 560.88a4.4 4.4 0 1 0 8.8 0a4.4 4.4 0 1 0 -8.8 0M175.07 570.05a4.4 4.4 0 1 0 8.8 0a4.4 4.4 0 1 0 -8.8 0M195.19 515a4.4 4.4 0 1 0 8.8 0a4.4 4.4 0 1 0 -8.8 0M195.19 524.18a4.4 4.4 0 1 0 8.8 0a4.4 4.4 0 1 0 -8.8 0M195.19 533.35a4.4 4.4 0 1 0 8.8 0a4.4 4.4 0 1 0 -8.8 0M195.19 542.53a4.4 4.4 0 1 0 8.8 0a4.4 4.4 0 1 0 -8.8 0M195.19 551.7a4.4 4.4 0 1 0 8.8 0a4.4 4.4 0 1 0 -8.8 0M195.19 560.88a4.4 4.4 0 1 0 8.8 0a4.4 4.4 0 1 0 -8.8 0M195.19 570.05a4.4 4.4 0 1 0 8.8 0a4.4 4.4 0 1 0 -8.8 0M195.19 579.23a4.4 4.4 0 1 0 8.8 0a4.4 4.4 0 1 0 -8.8 0M215.31 478.3a4.4 4.4 0 1 0 8.8 0a4.4 4.4 0 1 0 -8.8 0M215.31 487.48a4.4 4.4 0 1 0 8.8 0a4.4 4.4 0 1 0 -8.8 0M215.31 496.65a4.4 4.4 0 1 0 8.8 0a4.4 4.4 0 1 0 -8.8 0M215.31 505.82a4.4 4.4 0 1 0 8.8 0a4.4 4.4 0 1 0 -8.8 0M215.31 515a4.4 4.4 0 1 0 8.8 0a4.4 4.4 0 1 0 -8.8 0M215.31 524.18a4.4 4.4 0 1 0 8.8 0a4.4 4.4 0 1 0 -8.8 0M215.31 533.35a4.4 4.4 0 1 0 8.8 0a4.4 4.4 0 1 0 -8.8 0M215.31 542.53a4.4 4.4 0 1 0 8.8 0a4.4 4.4 0 1 0 -8.8 0M235.43 524.18a4.4 4.4 0 1 0 8.8 0a4.4 4.4 0 1 0 -8.8 0M235.43 533.35a4.4 4.4 0 1 0 8.8 0a4.4 4.4 0 1 0 -8.8 0M235.43 542.53a4.4 4.4 0 1 0 8.8 0a4.4 4.4 0 1 0 -8.8 0M235.43 551.7a4.4 4.4 0 1 0 8.8 0a4.4 4.4 0 1 0 -8.8 0M235.43 560.88a4.4 4.4 0 1 0 8.8 0a4.4 4.4 0 1 0 -8.8 0M235.43 570.05a4.4 4.4 0 1 0 8.8 0a4.4 4.4 0 1 0 -8.8 0M235.43 579.23a4.4 4.4 0 1 0 8.8 0a4.4 4.4 0 1 0 -8.8 0M235.43 588.4a4.4 4.4 0 1 0 8.8 0a4.4 4.4 0 1 0 -8.8 0M235.43 597.58a4.4 4.4 0 1 0 8.8 0a4.4 4.4 0 1 0 -8.8 0M255.55 524.18a4.4 4.4 0 1 0 8.8 0a4.4 4.4 0 1 0 -8.8 0M255.55 533.35a4.4 4.4 0 1 0 8.8 0a4.4 4.4 0 1 0 -8.8 0M255.55 542.53a4.4 4.4 0 1 0 8.8 0a4.4 4.4 0 1 0 -8.8 0M255.55 551.7a4.4 4.4 0 1 0 8.8 0a4.4 4.4 0 1 0 -8.8 0M275.67 505.82a4.4 4.4 0 1 0 8.8 0a4.4 4.4 0 1 0 -8.8 0M275.67 515a4.4 4.4 0 1 0 8.8 0a4.4 4.4 0 1 0 -8.8 0M275.67 524.18a4.4 4.4 0 1 0 8.8 0a4.4 4.4 0 1 0 -8.8 0M275.67 533.35a4.4 4.4 0 1 0 8.8 0a4.4 4.4 0 1 0 -8.8 0M295.79 478.3a4.4 4.4 0 1 0 8.8 0a4.4 4.4 0 1 0 -8.8 0M295.79 487.48a4.4 4.4 0 1 0 8.8 0a4.4 4.4 0 1 0 -8.8 0M295.79 496.65a4.4 4.4 0 1 0 8.8 0a4.4 4.4 0 1 0 -8.8 0M315.91 459.95a4.4 4.4 0 1 0 8.8 0a4.4 4.4 0 1 0 -8.8 0M315.91 469.12a4.4 4.4 0 1 0 8.8 0a4.4 4.4 0 1 0 -8.8 0M315.91 478.3a4.4 4.4 0 1 0 8.8 0a4.4 4.4 0 1 0 -8.8 0M315.91 487.48a4.4 4.4 0 1 0 8.8 0a4.4 4.4 0 1 0 -8.8 0M315.91 496.65a4.4 4.4 0 1 0 8.8 0a4.4 4.4 0 1 0 -8.8 0M315.91 505.82a4.4 4.4 0 1 0 8.8 0a4.4 4.4 0 1 0 -8.8 0M336.03 469.12a4.4 4.4 0 1 0 8.8 0a4.4 4.4 0 1 0 -8.8 0M336.03 478.3a4.4 4.4 0 1 0 8.8 0a4.4 4.4 0 1 0 -8.8 0M336.03 487.48a4.4 4.4 0 1 0 8.8 0a4.4 4.4 0 1 0 -8.8 0M356.16 459.95a4.4 4.4 0 1 0 8.8 0a4.4 4.4 0 1 0 -8.8 0M356.16 469.12a4.4 4.4 0 1 0 8.8 0a4.4 4.4 0 1 0 -8.8 0M356.16 478.3a4.4 4.4 0 1 0 8.8 0a4.4 4.4 0 1 0 -8.8 0M376.28 423.25a4.4 4.4 0 1 0 8.8 0a4.4 4.4 0 1 0 -8.8 0M376.28 432.43a4.4 4.4 0 1 0 8.8 0a4.4 4.4 0 1 0 -8.8 0M376.28 441.6a4.4 4.4 0 1 0 8.8 0a4.4 4.4 0 1 0 -8.8 0M376.28 450.78a4.4 4.4 0 1 0 8.8 0a4.4 4.4 0 1 0 -8.8 0M376.28 459.95a4.4 4.4 0 1 0 8.8 0a4.4 4.4 0 1 0 -8.8 0M376.28 469.12a4.4 4.4 0 1 0 8.8 0a4.4 4.4 0 1 0 -8.8 0M376.28 478.3a4.4 4.4 0 1 0 8.8 0a4.4 4.4 0 1 0 -8.8 0M376.28 487.48a4.4 4.4 0 1 0 8.8 0a4.4 4.4 0 1 0 -8.8 0M396.4 469.12a4.4 4.4 0 1 0 8.8 0a4.4 4.4 0 1 0 -8.8 0M396.4 478.3a4.4 4.4 0 1 0 8.8 0a4.4 4.4 0 1 0 -8.8 0M396.4 487.48a4.4 4.4 0 1 0 8.8 0a4.4 4.4 0 1 0 -8.8 0M396.4 496.65a4.4 4.4 0 1 0 8.8 0a4.4 4.4 0 1 0 -8.8 0M416.52 404.9a4.4 4.4 0 1 0 8.8 0a4.4 4.4 0 1 0 -8.8 0M416.52 414.07a4.4 4.4 0 1 0 8.8 0a4.4 4.4 0 1 0 -8.8 0M416.52 423.25a4.4 4.4 0 1 0 8.8 0a4.4 4.4 0 1 0 -8.8 0M416.52 432.43a4.4 4.4 0 1 0 8.8 0a4.4 4.4 0 1 0 -8.8 0M416.52 441.6a4.4 4.4 0 1 0 8.8 0a4.4 4.4 0 1 0 -8.8 0M416.52 450.78a4.4 4.4 0 1 0 8.8 0a4.4 4.4 0 1 0 -8.8 0M436.64 423.25a4.4 4.4 0 1 0 8.8 0a4.4 4.4 0 1 0 -8.8 0M436.64 432.43a4.4 4.4 0 1 0 8.8 0a4.4 4.4 0 1 0 -8.8 0M436.64 441.6a4.4 4.4 0 1 0 8.8 0a4.4 4.4 0 1 0 -8.8 0M436.64 450.78a4.4 4.4 0 1 0 8.8 0a4.4 4.4 0 1 0 -8.8 0M436.64 459.95a4.4 4.4 0 1 0 8.8 0a4.4 4.4 0 1 0 -8.8 0M436.64 469.12a4.4 4.4 0 1 0 8.8 0a4.4 4.4 0 1 0 -8.8 0M436.64 478.3a4.4 4.4 0 1 0 8.8 0a4.4 4.4 0 1 0 -8.8 0M436.64 487.48a4.4 4.4 0 1 0 8.8 0a4.4 4.4 0 1 0 -8.8 0M456.76 340.68a4.4 4.4 0 1 0 8.8 0a4.4 4.4 0 1 0 -8.8 0M456.76 349.85a4.4 4.4 0 1 0 8.8 0a4.4 4.4 0 1 0 -8.8 0M456.76 359.02a4.4 4.4 0 1 0 8.8 0a4.4 4.4 0 1 0 -8.8 0M456.76 368.2a4.4 4.4 0 1 0 8.8 0a4.4 4.4 0 1 0 -8.8 0M456.76 377.38a4.4 4.4 0 1 0 8.8 0a4.4 4.4 0 1 0 -8.8 0M456.76 386.55a4.4 4.4 0 1 0 8.8 0a4.4 4.4 0 1 0 -8.8 0M456.76 395.73a4.4 4.4 0 1 0 8.8 0a4.4 4.4 0 1 0 -8.8 0M456.76 404.9a4.4 4.4 0 1 0 8.8 0a4.4 4.4 0 1 0 -8.8 0M456.76 414.07a4.4 4.4 0 1 0 8.8 0a4.4 4.4 0 1 0 -8.8 0M476.88 395.73a4.4 4.4 0 1 0 8.8 0a4.4 4.4 0 1 0 -8.8 0M476.88 404.9a4.4 4.4 0 1 0 8.8 0a4.4 4.4 0 1 0 -8.8 0M476.88 414.07a4.4 4.4 0 1 0 8.8 0a4.4 4.4 0 1 0 -8.8 0M476.88 423.25a4.4 4.4 0 1 0 8.8 0a4.4 4.4 0 1 0 -8.8 0M476.88 432.43a4.4 4.4 0 1 0 8.8 0a4.4 4.4 0 1 0 -8.8 0M476.88 441.6a4.4 4.4 0 1 0 8.8 0a4.4 4.4 0 1 0 -8.8 0M476.88 450.78a4.4 4.4 0 1 0 8.8 0a4.4 4.4 0 1 0 -8.8 0M476.88 459.95a4.4 4.4 0 1 0 8.8 0a4.4 4.4 0 1 0 -8.8 0M497 230.58a4.4 4.4 0 1 0 8.8 0a4.4 4.4 0 1 0 -8.8 0M497 239.75a4.4 4.4 0 1 0 8.8 0a4.4 4.4 0 1 0 -8.8 0M497 248.93a4.4 4.4 0 1 0 8.8 0a4.4 4.4 0 1 0 -8.8 0M497 258.1a4.4 4.4 0 1 0 8.8 0a4.4 4.4 0 1 0 -8.8 0M517.12 239.75a4.4 4.4 0 1 0 8.8 0a4.4 4.4 0 1 0 -8.8 0M517.12 248.93a4.4 4.4 0 1 0 8.8 0a4.4 4.4 0 1 0 -8.8 0M517.12 258.1a4.4 4.4 0 1 0 8.8 0a4.4 4.4 0 1 0 -8.8 0M517.12 267.28a4.4 4.4 0 1 0 8.8 0a4.4 4.4 0 1 0 -8.8 0M517.12 276.45a4.4 4.4 0 1 0 8.8 0a4.4 4.4 0 1 0 -8.8 0M517.12 285.62a4.4 4.4 0 1 0 8.8 0a4.4 4.4 0 1 0 -8.8 0M517.12 294.8a4.4 4.4 0 1 0 8.8 0a4.4 4.4 0 1 0 -8.8 0M517.12 303.98a4.4 4.4 0 1 0 8.8 0a4.4 4.4 0 1 0 -8.8 0M517.12 313.15a4.4 4.4 0 1 0 8.8 0a4.4 4.4 0 1 0 -8.8 0M517.12 322.32a4.4 4.4 0 1 0 8.8 0a4.4 4.4 0 1 0 -8.8 0M517.12 331.5a4.4 4.4 0 1 0 8.8 0a4.4 4.4 0 1 0 -8.8 0M517.12 340.68a4.4 4.4 0 1 0 8.8 0a4.4 4.4 0 1 0 -8.8 0M517.12 349.85a4.4 4.4 0 1 0 8.8 0a4.4 4.4 0 1 0 -8.8 0M537.25 331.5a4.4 4.4 0 1 0 8.8 0a4.4 4.4 0 1 0 -8.8 0M537.25 340.68a4.4 4.4 0 1 0 8.8 0a4.4 4.4 0 1 0 -8.8 0M537.25 349.85a4.4 4.4 0 1 0 8.8 0a4.4 4.4 0 1 0 -8.8 0M537.25 359.02a4.4 4.4 0 1 0 8.8 0a4.4 4.4 0 1 0 -8.8 0M537.25 368.2a4.4 4.4 0 1 0 8.8 0a4.4 4.4 0 1 0 -8.8 0M537.25 377.38a4.4 4.4 0 1 0 8.8 0a4.4 4.4 0 1 0 -8.8 0M537.25 386.55a4.4 4.4 0 1 0 8.8 0a4.4 4.4 0 1 0 -8.8 0M537.25 395.73a4.4 4.4 0 1 0 8.8 0a4.4 4.4 0 1 0 -8.8 0M537.25 404.9a4.4 4.4 0 1 0 8.8 0a4.4 4.4 0 1 0 -8.8 0M537.25 414.07a4.4 4.4 0 1 0 8.8 0a4.4 4.4 0 1 0 -8.8 0M537.25 423.25a4.4 4.4 0 1 0 8.8 0a4.4 4.4 0 1 0 -8.8 0M537.25 432.43a4.4 4.4 0 1 0 8.8 0a4.4 4.4 0 1 0 -8.8 0M537.25 441.6a4.4 4.4 0 1 0 8.8 0a4.4 4.4 0 1 0 -8.8 0M537.25 450.78a4.4 4.4 0 1 0 8.8 0a4.4 4.4 0 1 0 -8.8 0M537.25 459.95a4.4 4.4 0 1 0 8.8 0a4.4 4.4 0 1 0 -8.8 0M557.37 395.73a4.4 4.4 0 1 0 8.8 0a4.4 4.4 0 1 0 -8.8 0M557.37 404.9a4.4 4.4 0 1 0 8.8 0a4.4 4.4 0 1 0 -8.8 0M557.37 414.07a4.4 4.4 0 1 0 8.8 0a4.4 4.4 0 1 0 -8.8 0M557.37 423.25a4.4 4.4 0 1 0 8.8 0a4.4 4.4 0 1 0 -8.8 0M557.37 432.43a4.4 4.4 0 1 0 8.8 0a4.4 4.4 0 1 0 -8.8 0M557.37 441.6a4.4 4.4 0 1 0 8.8 0a4.4 4.4 0 1 0 -8.8 0M577.49 414.07a4.4 4.4 0 1 0 8.8 0a4.4 4.4 0 1 0 -8.8 0M577.49 423.25a4.4 4.4 0 1 0 8.8 0a4.4 4.4 0 1 0 -8.8 0M577.49 432.43a4.4 4.4 0 1 0 8.8 0a4.4 4.4 0 1 0 -8.8 0M577.49 441.6a4.4 4.4 0 1 0 8.8 0a4.4 4.4 0 1 0 -8.8 0M577.49 450.78a4.4 4.4 0 1 0 8.8 0a4.4 4.4 0 1 0 -8.8 0M577.49 459.95a4.4 4.4 0 1 0 8.8 0a4.4 4.4 0 1 0 -8.8 0M597.61 432.43a4.4 4.4 0 1 0 8.8 0a4.4 4.4 0 1 0 -8.8 0M597.61 441.6a4.4 4.4 0 1 0 8.8 0a4.4 4.4 0 1 0 -8.8 0M597.61 450.78a4.4 4.4 0 1 0 8.8 0a4.4 4.4 0 1 0 -8.8 0M617.73 276.45a4.4 4.4 0 1 0 8.8 0a4.4 4.4 0 1 0 -8.8 0M617.73 285.62a4.4 4.4 0 1 0 8.8 0a4.4 4.4 0 1 0 -8.8 0M617.73 294.8a4.4 4.4 0 1 0 8.8 0a4.4 4.4 0 1 0 -8.8 0M617.73 303.98a4.4 4.4 0 1 0 8.8 0a4.4 4.4 0 1 0 -8.8 0M617.73 313.15a4.4 4.4 0 1 0 8.8 0a4.4 4.4 0 1 0 -8.8 0M617.73 322.32a4.4 4.4 0 1 0 8.8 0a4.4 4.4 0 1 0 -8.8 0M617.73 331.5a4.4 4.4 0 1 0 8.8 0a4.4 4.4 0 1 0 -8.8 0M617.73 340.68a4.4 4.4 0 1 0 8.8 0a4.4 4.4 0 1 0 -8.8 0M617.73 349.85a4.4 4.4 0 1 0 8.8 0a4.4 4.4 0 1 0 -8.8 0M617.73 359.02a4.4 4.4 0 1 0 8.8 0a4.4 4.4 0 1 0 -8.8 0M617.73 368.2a4.4 4.4 0 1 0 8.8 0a4.4 4.4 0 1 0 -8.8 0M617.73 377.38a4.4 4.4 0 1 0 8.8 0a4.4 4.4 0 1 0 -8.8 0M617.73 386.55a4.4 4.4 0 1 0 8.8 0a4.4 4.4 0 1 0 -8.8 0M617.73 395.73a4.4 4.4 0 1 0 8.8 0a4.4 4.4 0 1 0 -8.8 0M617.73 404.9a4.4 4.4 0 1 0 8.8 0a4.4 4.4 0 1 0 -8.8 0M617.73 414.07a4.4 4.4 0 1 0 8.8 0a4.4 4.4 0 1 0 -8.8 0M637.85 239.75a4.4 4.4 0 1 0 8.8 0a4.4 4.4 0 1 0 -8.8 0M637.85 248.93a4.4 4.4 0 1 0 8.8 0a4.4 4.4 0 1 0 -8.8 0M637.85 258.1a4.4 4.4 0 1 0 8.8 0a4.4 4.4 0 1 0 -8.8 0M637.85 267.28a4.4 4.4 0 1 0 8.8 0a4.4 4.4 0 1 0 -8.8 0M637.85 276.45a4.4 4.4 0 1 0 8.8 0a4.4 4.4 0 1 0 -8.8 0M637.85 285.62a4.4 4.4 0 1 0 8.8 0a4.4 4.4 0 1 0 -8.8 0M637.85 294.8a4.4 4.4 0 1 0 8.8 0a4.4 4.4 0 1 0 -8.8 0M637.85 303.98a4.4 4.4 0 1 0 8.8 0a4.4 4.4 0 1 0 -8.8 0M637.85 313.15a4.4 4.4 0 1 0 8.8 0a4.4 4.4 0 1 0 -8.8 0M637.85 322.32a4.4 4.4 0 1 0 8.8 0a4.4 4.4 0 1 0 -8.8 0M637.85 331.5a4.4 4.4 0 1 0 8.8 0a4.4 4.4 0 1 0 -8.8 0M657.97 303.98a4.4 4.4 0 1 0 8.8 0a4.4 4.4 0 1 0 -8.8 0M657.97 313.15a4.4 4.4 0 1 0 8.8 0a4.4 4.4 0 1 0 -8.8 0M657.97 322.32a4.4 4.4 0 1 0 8.8 0a4.4 4.4 0 1 0 -8.8 0M678.09 303.98a4.4 4.4 0 1 0 8.8 0a4.4 4.4 0 1 0 -8.8 0M678.09 313.15a4.4 4.4 0 1 0 8.8 0a4.4 4.4 0 1 0 -8.8 0M678.09 322.32a4.4 4.4 0 1 0 8.8 0a4.4 4.4 0 1 0 -8.8 0M698.21 258.1a4.4 4.4 0 1 0 8.8 0a4.4 4.4 0 1 0 -8.8 0M698.21 267.28a4.4 4.4 0 1 0 8.8 0a4.4 4.4 0 1 0 -8.8 0M698.21 276.45a4.4 4.4 0 1 0 8.8 0a4.4 4.4 0 1 0 -8.8 0M698.21 285.62a4.4 4.4 0 1 0 8.8 0a4.4 4.4 0 1 0 -8.8 0M718.33 203.05a4.4 4.4 0 1 0 8.8 0a4.4 4.4 0 1 0 -8.8 0M718.33 212.23a4.4 4.4 0 1 0 8.8 0a4.4 4.4 0 1 0 -8.8 0M718.33 221.4a4.4 4.4 0 1 0 8.8 0a4.4 4.4 0 1 0 -8.8 0M718.33 230.58a4.4 4.4 0 1 0 8.8 0a4.4 4.4 0 1 0 -8.8 0M718.33 239.75a4.4 4.4 0 1 0 8.8 0a4.4 4.4 0 1 0 -8.8 0M718.33 248.93a4.4 4.4 0 1 0 8.8 0a4.4 4.4 0 1 0 -8.8 0M718.33 258.1a4.4 4.4 0 1 0 8.8 0a4.4 4.4 0 1 0 -8.8 0M718.33 267.28a4.4 4.4 0 1 0 8.8 0a4.4 4.4 0 1 0 -8.8 0M718.33 276.45a4.4 4.4 0 1 0 8.8 0a4.4 4.4 0 1 0 -8.8 0M738.46 184.7a4.4 4.4 0 1 0 8.8 0a4.4 4.4 0 1 0 -8.8 0M738.46 193.88a4.4 4.4 0 1 0 8.8 0a4.4 4.4 0 1 0 -8.8 0M738.46 203.05a4.4 4.4 0 1 0 8.8 0a4.4 4.4 0 1 0 -8.8 0M738.46 212.23a4.4 4.4 0 1 0 8.8 0a4.4 4.4 0 1 0 -8.8 0M738.46 221.4a4.4 4.4 0 1 0 8.8 0a4.4 4.4 0 1 0 -8.8 0M738.46 230.58a4.4 4.4 0 1 0 8.8 0a4.4 4.4 0 1 0 -8.8 0M738.46 239.75a4.4 4.4 0 1 0 8.8 0a4.4 4.4 0 1 0 -8.8 0M738.46 248.93a4.4 4.4 0 1 0 8.8 0a4.4 4.4 0 1 0 -8.8 0M738.46 258.1a4.4 4.4 0 1 0 8.8 0a4.4 4.4 0 1 0 -8.8 0M738.46 267.28a4.4 4.4 0 1 0 8.8 0a4.4 4.4 0 1 0 -8.8 0M738.46 276.45a4.4 4.4 0 1 0 8.8 0a4.4 4.4 0 1 0 -8.8 0M738.46 285.62a4.4 4.4 0 1 0 8.8 0a4.4 4.4 0 1 0 -8.8 0M758.58 203.05a4.4 4.4 0 1 0 8.8 0a4.4 4.4 0 1 0 -8.8 0M758.58 212.23a4.4 4.4 0 1 0 8.8 0a4.4 4.4 0 1 0 -8.8 0M758.58 221.4a4.4 4.4 0 1 0 8.8 0a4.4 4.4 0 1 0 -8.8 0M758.58 230.58a4.4 4.4 0 1 0 8.8 0a4.4 4.4 0 1 0 -8.8 0M758.58 239.75a4.4 4.4 0 1 0 8.8 0a4.4 4.4 0 1 0 -8.8 0M758.58 248.93a4.4 4.4 0 1 0 8.8 0a4.4 4.4 0 1 0 -8.8 0M758.58 258.1a4.4 4.4 0 1 0 8.8 0a4.4 4.4 0 1 0 -8.8 0M758.58 267.28a4.4 4.4 0 1 0 8.8 0a4.4 4.4 0 1 0 -8.8 0M758.58 276.45a4.4 4.4 0 1 0 8.8 0a4.4 4.4 0 1 0 -8.8 0M758.58 285.62a4.4 4.4 0 1 0 8.8 0a4.4 4.4 0 1 0 -8.8 0M758.58 294.8a4.4 4.4 0 1 0 8.8 0a4.4 4.4 0 1 0 -8.8 0M758.58 303.98a4.4 4.4 0 1 0 8.8 0a4.4 4.4 0 1 0 -8.8 0M758.58 313.15a4.4 4.4 0 1 0 8.8 0a4.4 4.4 0 1 0 -8.8 0M758.58 322.32a4.4 4.4 0 1 0 8.8 0a4.4 4.4 0 1 0 -8.8 0M758.58 331.5a4.4 4.4 0 1 0 8.8 0a4.4 4.4 0 1 0 -8.8 0M758.58 340.68a4.4 4.4 0 1 0 8.8 0a4.4 4.4 0 1 0 -8.8 0M758.58 349.85a4.4 4.4 0 1 0 8.8 0a4.4 4.4 0 1 0 -8.8 0M758.58 359.02a4.4 4.4 0 1 0 8.8 0a4.4 4.4 0 1 0 -8.8 0M758.58 368.2a4.4 4.4 0 1 0 8.8 0a4.4 4.4 0 1 0 -8.8 0M778.7 239.75a4.4 4.4 0 1 0 8.8 0a4.4 4.4 0 1 0 -8.8 0M778.7 248.93a4.4 4.4 0 1 0 8.8 0a4.4 4.4 0 1 0 -8.8 0M778.7 258.1a4.4 4.4 0 1 0 8.8 0a4.4 4.4 0 1 0 -8.8 0M798.82 203.05a4.4 4.4 0 1 0 8.8 0a4.4 4.4 0 1 0 -8.8 0M798.82 212.23a4.4 4.4 0 1 0 8.8 0a4.4 4.4 0 1 0 -8.8 0M798.82 221.4a4.4 4.4 0 1 0 8.8 0a4.4 4.4 0 1 0 -8.8 0M798.82 230.58a4.4 4.4 0 1 0 8.8 0a4.4 4.4 0 1 0 -8.8 0M798.82 239.75a4.4 4.4 0 1 0 8.8 0a4.4 4.4 0 1 0 -8.8 0M798.82 248.93a4.4 4.4 0 1 0 8.8 0a4.4 4.4 0 1 0 -8.8 0M798.82 258.1a4.4 4.4 0 1 0 8.8 0a4.4 4.4 0 1 0 -8.8 0M798.82 267.28a4.4 4.4 0 1 0 8.8 0a4.4 4.4 0 1 0 -8.8 0M798.82 276.45a4.4 4.4 0 1 0 8.8 0a4.4 4.4 0 1 0 -8.8 0M798.82 285.62a4.4 4.4 0 1 0 8.8 0a4.4 4.4 0 1 0 -8.8 0M798.82 294.8a4.4 4.4 0 1 0 8.8 0a4.4 4.4 0 1 0 -8.8 0M798.82 303.98a4.4 4.4 0 1 0 8.8 0a4.4 4.4 0 1 0 -8.8 0M818.94 285.62a4.4 4.4 0 1 0 8.8 0a4.4 4.4 0 1 0 -8.8 0M818.94 294.8a4.4 4.4 0 1 0 8.8 0a4.4 4.4 0 1 0 -8.8 0M818.94 303.98a4.4 4.4 0 1 0 8.8 0a4.4 4.4 0 1 0 -8.8 0M839.06 248.93a4.4 4.4 0 1 0 8.8 0a4.4 4.4 0 1 0 -8.8 0M839.06 258.1a4.4 4.4 0 1 0 8.8 0a4.4 4.4 0 1 0 -8.8 0M839.06 267.28a4.4 4.4 0 1 0 8.8 0a4.4 4.4 0 1 0 -8.8 0M839.06 276.45a4.4 4.4 0 1 0 8.8 0a4.4 4.4 0 1 0 -8.8 0M859.18 203.05a4.4 4.4 0 1 0 8.8 0a4.4 4.4 0 1 0 -8.8 0M859.18 212.23a4.4 4.4 0 1 0 8.8 0a4.4 4.4 0 1 0 -8.8 0M859.18 221.4a4.4 4.4 0 1 0 8.8 0a4.4 4.4 0 1 0 -8.8 0M859.18 230.58a4.4 4.4 0 1 0 8.8 0a4.4 4.4 0 1 0 -8.8 0M859.18 239.75a4.4 4.4 0 1 0 8.8 0a4.4 4.4 0 1 0 -8.8 0M879.3 203.05a4.4 4.4 0 1 0 8.8 0a4.4 4.4 0 1 0 -8.8 0M879.3 212.23a4.4 4.4 0 1 0 8.8 0a4.4 4.4 0 1 0 -8.8 0M879.3 221.4a4.4 4.4 0 1 0 8.8 0a4.4 4.4 0 1 0 -8.8 0M879.3 230.58a4.4 4.4 0 1 0 8.8 0a4.4 4.4 0 1 0 -8.8 0M879.3 239.75a4.4 4.4 0 1 0 8.8 0a4.4 4.4 0 1 0 -8.8 0M899.42 148a4.4 4.4 0 1 0 8.8 0a4.4 4.4 0 1 0 -8.8 0M899.42 157.18a4.4 4.4 0 1 0 8.8 0a4.4 4.4 0 1 0 -8.8 0M899.42 166.35a4.4 4.4 0 1 0 8.8 0a4.4 4.4 0 1 0 -8.8 0M899.42 175.53a4.4 4.4 0 1 0 8.8 0a4.4 4.4 0 1 0 -8.8 0M919.54 148a4.4 4.4 0 1 0 8.8 0a4.4 4.4 0 1 0 -8.8 0M919.54 157.18a4.4 4.4 0 1 0 8.8 0a4.4 4.4 0 1 0 -8.8 0M919.54 166.35a4.4 4.4 0 1 0 8.8 0a4.4 4.4 0 1 0 -8.8 0M939.66 138.83a4.4 4.4 0 1 0 8.8 0a4.4 4.4 0 1 0 -8.8 0M939.66 148a4.4 4.4 0 1 0 8.8 0a4.4 4.4 0 1 0 -8.8 0M939.66 157.18a4.4 4.4 0 1 0 8.8 0a4.4 4.4 0 1 0 -8.8 0M939.66 166.35a4.4 4.4 0 1 0 8.8 0a4.4 4.4 0 1 0 -8.8 0M939.66 175.53a4.4 4.4 0 1 0 8.8 0a4.4 4.4 0 1 0 -8.8 0M939.66 184.7a4.4 4.4 0 1 0 8.8 0a4.4 4.4 0 1 0 -8.8 0M939.66 193.88a4.4 4.4 0 1 0 8.8 0a4.4 4.4 0 1 0 -8.8 0M939.66 203.05a4.4 4.4 0 1 0 8.8 0a4.4 4.4 0 1 0 -8.8 0M939.66 212.23a4.4 4.4 0 1 0 8.8 0a4.4 4.4 0 1 0 -8.8 0M939.66 221.4a4.4 4.4 0 1 0 8.8 0a4.4 4.4 0 1 0 -8.8 0M939.66 230.58a4.4 4.4 0 1 0 8.8 0a4.4 4.4 0 1 0 -8.8 0M939.66 239.75a4.4 4.4 0 1 0 8.8 0a4.4 4.4 0 1 0 -8.8 0M939.66 248.93a4.4 4.4 0 1 0 8.8 0a4.4 4.4 0 1 0 -8.8 0M939.66 258.1a4.4 4.4 0 1 0 8.8 0a4.4 4.4 0 1 0 -8.8 0M959.79 212.23a4.4 4.4 0 1 0 8.8 0a4.4 4.4 0 1 0 -8.8 0M959.79 221.4a4.4 4.4 0 1 0 8.8 0a4.4 4.4 0 1 0 -8.8 0M959.79 230.58a4.4 4.4 0 1 0 8.8 0a4.4 4.4 0 1 0 -8.8 0M959.79 239.75a4.4 4.4 0 1 0 8.8 0a4.4 4.4 0 1 0 -8.8 0M959.79 248.93a4.4 4.4 0 1 0 8.8 0a4.4 4.4 0 1 0 -8.8 0M959.79 258.1a4.4 4.4 0 1 0 8.8 0a4.4 4.4 0 1 0 -8.8 0M959.79 267.28a4.4 4.4 0 1 0 8.8 0a4.4 4.4 0 1 0 -8.8 0M979.91 239.75a4.4 4.4 0 1 0 8.8 0a4.4 4.4 0 1 0 -8.8 0M979.91 248.93a4.4 4.4 0 1 0 8.8 0a4.4 4.4 0 1 0 -8.8 0M979.91 258.1a4.4 4.4 0 1 0 8.8 0a4.4 4.4 0 1 0 -8.8 0M979.91 267.28a4.4 4.4 0 1 0 8.8 0a4.4 4.4 0 1 0 -8.8 0M1000.03 230.58a4.4 4.4 0 1 0 8.8 0a4.4 4.4 0 1 0 -8.8 0M1000.03 239.75a4.4 4.4 0 1 0 8.8 0a4.4 4.4 0 1 0 -8.8 0M1000.03 248.93a4.4 4.4 0 1 0 8.8 0a4.4 4.4 0 1 0 -8.8 0M1020.15 212.23a4.4 4.4 0 1 0 8.8 0a4.4 4.4 0 1 0 -8.8 0M1020.15 221.4a4.4 4.4 0 1 0 8.8 0a4.4 4.4 0 1 0 -8.8 0M1020.15 230.58a4.4 4.4 0 1 0 8.8 0a4.4 4.4 0 1 0 -8.8 0M1020.15 239.75a4.4 4.4 0 1 0 8.8 0a4.4 4.4 0 1 0 -8.8 0M1040.27 175.53a4.4 4.4 0 1 0 8.8 0a4.4 4.4 0 1 0 -8.8 0M1040.27 184.7a4.4 4.4 0 1 0 8.8 0a4.4 4.4 0 1 0 -8.8 0M1040.27 193.88a4.4 4.4 0 1 0 8.8 0a4.4 4.4 0 1 0 -8.8 0M1040.27 203.05a4.4 4.4 0 1 0 8.8 0a4.4 4.4 0 1 0 -8.8 0M1040.27 212.23a4.4 4.4 0 1 0 8.8 0a4.4 4.4 0 1 0 -8.8 0M1040.27 221.4a4.4 4.4 0 1 0 8.8 0a4.4 4.4 0 1 0 -8.8 0M1040.27 230.58a4.4 4.4 0 1 0 8.8 0a4.4 4.4 0 1 0 -8.8 0M1060.39 65.42a4.4 4.4 0 1 0 8.8 0a4.4 4.4 0 1 0 -8.8 0M1060.39 74.6a4.4 4.4 0 1 0 8.8 0a4.4 4.4 0 1 0 -8.8 0M1060.39 83.78a4.4 4.4 0 1 0 8.8 0a4.4 4.4 0 1 0 -8.8 0M1060.39 92.95a4.4 4.4 0 1 0 8.8 0a4.4 4.4 0 1 0 -8.8 0M1060.39 102.12a4.4 4.4 0 1 0 8.8 0a4.4 4.4 0 1 0 -8.8 0M1060.39 111.3a4.4 4.4 0 1 0 8.8 0a4.4 4.4 0 1 0 -8.8 0M1060.39 120.47a4.4 4.4 0 1 0 8.8 0a4.4 4.4 0 1 0 -8.8 0M1060.39 129.65a4.4 4.4 0 1 0 8.8 0a4.4 4.4 0 1 0 -8.8 0M1080.51 92.95a4.4 4.4 0 1 0 8.8 0a4.4 4.4 0 1 0 -8.8 0M1080.51 102.12a4.4 4.4 0 1 0 8.8 0a4.4 4.4 0 1 0 -8.8 0M1080.51 111.3a4.4 4.4 0 1 0 8.8 0a4.4 4.4 0 1 0 -8.8 0M1080.51 120.47a4.4 4.4 0 1 0 8.8 0a4.4 4.4 0 1 0 -8.8 0M1080.51 129.65a4.4 4.4 0 1 0 8.8 0a4.4 4.4 0 1 0 -8.8 0M1080.51 138.83a4.4 4.4 0 1 0 8.8 0a4.4 4.4 0 1 0 -8.8 0M1080.51 148a4.4 4.4 0 1 0 8.8 0a4.4 4.4 0 1 0 -8.8 0M1080.51 157.18a4.4 4.4 0 1 0 8.8 0a4.4 4.4 0 1 0 -8.8 0M1080.51 166.35a4.4 4.4 0 1 0 8.8 0a4.4 4.4 0 1 0 -8.8 0M1080.51 175.53a4.4 4.4 0 1 0 8.8 0a4.4 4.4 0 1 0 -8.8 0M1080.51 184.7a4.4 4.4 0 1 0 8.8 0a4.4 4.4 0 1 0 -8.8 0M1080.51 193.88a4.4 4.4 0 1 0 8.8 0a4.4 4.4 0 1 0 -8.8 0M1080.51 203.05a4.4 4.4 0 1 0 8.8 0a4.4 4.4 0 1 0 -8.8 0M1100.63 184.7a4.4 4.4 0 1 0 8.8 0a4.4 4.4 0 1 0 -8.8 0M1100.63 193.88a4.4 4.4 0 1 0 8.8 0a4.4 4.4 0 1 0 -8.8 0M1100.63 203.05a4.4 4.4 0 1 0 8.8 0a4.4 4.4 0 1 0 -8.8 0M1100.63 212.23a4.4 4.4 0 1 0 8.8 0a4.4 4.4 0 1 0 -8.8 0M1120.75 120.47a4.4 4.4 0 1 0 8.8 0a4.4 4.4 0 1 0 -8.8 0M1120.75 129.65a4.4 4.4 0 1 0 8.8 0a4.4 4.4 0 1 0 -8.8 0M1120.75 138.83a4.4 4.4 0 1 0 8.8 0a4.4 4.4 0 1 0 -8.8 0M1120.75 148a4.4 4.4 0 1 0 8.8 0a4.4 4.4 0 1 0 -8.8 0M1120.75 157.18a4.4 4.4 0 1 0 8.8 0a4.4 4.4 0 1 0 -8.8 0M1120.75 166.35a4.4 4.4 0 1 0 8.8 0a4.4 4.4 0 1 0 -8.8 0M1140.87 148a4.4 4.4 0 1 0 8.8 0a4.4 4.4 0 1 0 -8.8 0M1140.87 157.18a4.4 4.4 0 1 0 8.8 0a4.4 4.4 0 1 0 -8.8 0M1140.87 166.35a4.4 4.4 0 1 0 8.8 0a4.4 4.4 0 1 0 -8.8 0M1161 65.42a4.4 4.4 0 1 0 8.8 0a4.4 4.4 0 1 0 -8.8 0M1161 74.6a4.4 4.4 0 1 0 8.8 0a4.4 4.4 0 1 0 -8.8 0M1161 83.78a4.4 4.4 0 1 0 8.8 0a4.4 4.4 0 1 0 -8.8 0M1161 92.95a4.4 4.4 0 1 0 8.8 0a4.4 4.4 0 1 0 -8.8 0M1161 102.12a4.4 4.4 0 1 0 8.8 0a4.4 4.4 0 1 0 -8.8 0M1161 111.3a4.4 4.4 0 1 0 8.8 0a4.4 4.4 0 1 0 -8.8 0M1161 120.47a4.4 4.4 0 1 0 8.8 0a4.4 4.4 0 1 0 -8.8 0M1161 129.65a4.4 4.4 0 1 0 8.8 0a4.4 4.4 0 1 0 -8.8 0M1161 138.83a4.4 4.4 0 1 0 8.8 0a4.4 4.4 0 1 0 -8.8 0M1161 148a4.4 4.4 0 1 0 8.8 0a4.4 4.4 0 1 0 -8.8 0M1161 157.18a4.4 4.4 0 1 0 8.8 0a4.4 4.4 0 1 0 -8.8 0" fill="none" stroke="#eb4d5c" stroke-width="1.45"/>

<!-- TV logo -->
<g fill="#131722">
<path d="M11.05 609H28.94V630.7H20.03V616.9H11.05Z"/>
<circle cx="36.45" cy="613" r="4.27"/>
<path d="M46 609H55.4L46.9 630.7H37Z"/>
</g>
<!-- lightning -->
<circle cx="1165.6" cy="632.35" r="14.65" fill="none" stroke="#8f18a8" stroke-width="2"/>
<path d="M1168.8 624.3L1170.5 625.3L1166.4 631.6H1171.6L1161.9 641L1160.5 639.9L1165.3 633.3H1159.2Z" fill="#8f18a8"/>
<!-- gear -->
<g fill="none" stroke="#131722">
<circle cx="1316" cy="673" r="7.1" stroke-width="1.6"/>
<path d="M1323.90 673.00L1326.90 673.00M1321.59 678.59L1323.71 680.71M1316.00 680.90L1316.00 683.90M1310.41 678.59L1308.29 680.71M1308.10 673.00L1305.10 673.00M1310.41 667.41L1308.29 665.29M1316.00 665.10L1316.00 662.10M1321.59 667.41L1323.71 665.29" stroke-width="1.8"/>
</g>
</svg>
<div class="vline"></div>
<div class="hline"></div>
<div class="pl" style="top:27.90px">1.06000</div>
<div class="pl" style="top:73.78px">1.05950</div>
<div class="pl" style="top:165.53px">1.05850</div>
<div class="pl" style="top:211.40px">1.05800</div>
<div class="pl" style="top:257.28px">1.05750</div>
<div class="pl" style="top:303.15px">1.05700</div>
<div class="pl" style="top:349.02px">1.05650</div>
<div class="pl" style="top:394.90px">1.05600</div>
<div class="pl" style="top:440.78px">1.05550</div>
<div class="pl" style="top:486.65px">1.05500</div>
<div class="pl" style="top:532.53px">1.05450</div>
<div class="pl" style="top:578.40px">1.05400</div>
<div class="pl" style="top:624.27px">1.05350</div>
<div class="tl" style="left:38.86px">20:02</div>
<div class="tl b" style="left:169.65px">9</div>
<div class="tl" style="left:290.37px">08:49</div>
<div class="tl" style="left:461.40px">13:36</div>
<div class="tl" style="left:602.25px">16:02</div>
<div class="tl" style="left:803.46px">20:01</div>
<div class="tl b" style="left:994.61px">10</div>
<div class="tl" style="left:1125.40px">06:56</div>
<div id="tag1" class="tag"><span>1.05879</span></div>
<div id="tag2" class="tag"><span>1.05870</span></div>
<div id="sell" class="btn"><span class="m">1.0587</span><span class="s">9</span></div>
<div id="spread">0.2</div>
<div id="buy" class="btn"><span class="m">1.0588</span><span class="s">1</span></div>
</div>
<div id="bar">
<div class="t" style="left:16.97px;transform:scale(1.0137,1.00)">1D</div>
<div class="t" style="left:62.19px;transform:scale(0.9908,1.00)">5D</div>
<div class="t" style="left:106.95px;transform:scale(1.0299,1.00)">1M</div>
<div class="t" style="left:153.91px;transform:scale(1.0417,1.00)">3M</div>
<div class="t" style="left:200.12px;transform:scale(1.0758,1.00)">6M</div>
<div class="t" style="left:246.88px;transform:scale(1.0083,1.00)">YTD</div>
<div class="t" style="left:306.23px;transform:scale(0.9565,1.00)">1Y</div>
<div class="t" style="left:349.54px;transform:scale(1.0308,1.00)">5Y</div>
<div class="t" style="left:393.86px;transform:scale(1.2245,1.00)">All</div>
<div class="sep" style="left:443px"></div>
<svg style="position:absolute;left:462.7px;top:11.2px" width="37.33" height="37.33" viewBox="0 0 28 28"><path fill="#d1d4dc" fill-rule="evenodd" d="M11 4h-1v2H7.5A2.5 2.5 0 0 0 5 8.5V13h1v-2h16v8.5c0 .83-.67 1.5-1.5 1.5H14v1h6.5a2.5 2.5 0 0 0 2.5-2.5v-11A2.5 2.5 0 0 0 20.5 6H18V4h-1v2h-6V4Zm6 4V7h-6v1h-1V7H7.5C6.67 7 6 7.67 6 8.5V10h16V8.500c0-.83-.67-1.5-1.5-1.5H18v1h-1Zm-5.150 10.150-3.500-3.500-.7.7L10.290 18H4v1h6.290l-2.640 2.650.7.7 3.500-3.500.360-.350-.360-.350Z"/></svg>
<div class="sep" style="left:1191px"></div>
<div class="t" style="left:1002.48px;transform:scale(1.1041,1.00)">08:01:22</div>
<div class="t" style="left:1090.73px;transform:scale(1.0406,1.00)">(UTC+2)</div>
<div class="t" style="left:1210.45px;transform:scale(1.1871,1.34)">%</div>
<div class="t" style="left:1250.90px;transform:scale(1.1928,1.00)">log</div>
<div class="t" style="left:1300.06px;transform:scale(1.1753,1.00);color:#2962ff">auto</div>
</div>
</body>
</html>
